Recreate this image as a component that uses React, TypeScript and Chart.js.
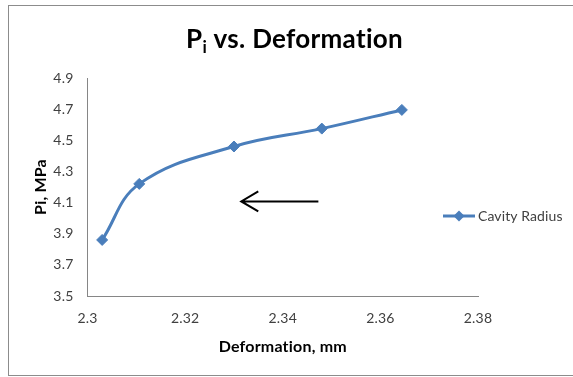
import React, { useEffect, useRef } from "react";
import { Chart, registerables } from "chart.js";

Chart.register(...registerables);

// ---- data ----
const seriesLabel = "Cavity Radius";
const deformation = [2.303, 2.3106, 2.33, 2.348, 2.3644];
const pressure = [3.86, 4.22, 4.46, 4.575, 4.695];
const xTicks = [2.3, 2.32, 2.34, 2.36, 2.38];
const yTicks = [3.5, 3.7, 3.9, 4.1, 4.3, 4.5, 4.7, 4.9];
const arrowTail = [2.3473, 4.107];
const arrowHead = [2.3315, 4.107];
const titleMain = "P";
const titleSub = "i";
const titleRest = " vs. Deformation";
const xTitle = "Deformation, mm";
const yTitle = "Pi, MPa";

const FONT = "Lato, 'Open Sans', sans-serif";
const LINE = "#4a7ebb";
const TEXT = "#404040";

const decorPlugin = {
  id: "decor",
  beforeDraw(chart: any) {
    // non-zero letter spacing prevents the "ti" ligature
    (chart.ctx as any).letterSpacing = "0.2px";
  },
  afterDatasetsDraw(chart: any) {
    const { ctx, scales } = chart;
    const x = scales.x, y = scales.y;
    const tx = x.getPixelForValue(arrowTail[0]);
    const ty = y.getPixelForValue(arrowTail[1]);
    const hx = x.getPixelForValue(arrowHead[0]);
    const hy = y.getPixelForValue(arrowHead[1]);
    ctx.save();
    ctx.strokeStyle = "#000";
    ctx.lineWidth = 2;
    ctx.beginPath();
    ctx.moveTo(tx, ty);
    ctx.lineTo(hx, hy);
    ctx.moveTo(hx + 17, hy - 10);
    ctx.lineTo(hx, hy);
    ctx.lineTo(hx + 17, hy + 10);
    ctx.stroke();
    ctx.restore();
  },
  afterDraw(chart: any) {
    const { ctx } = chart;
    ctx.save();
    (ctx as any).letterSpacing = "0.3px";
    const big = `bold 26px ${FONT}`;
    const small = `bold 17px ${FONT}`;
    ctx.font = big;
    const w1 = ctx.measureText(titleMain).width;
    const w3 = ctx.measureText(titleRest).width;
    ctx.font = small;
    const w2 = ctx.measureText(titleSub).width;
    const total = w1 + w2 + w3;
    let cx = 294.5 - total / 2;
    const base = 48;
    ctx.fillStyle = "#000";
    ctx.textBaseline = "alphabetic";
    ctx.textAlign = "left";
    ctx.font = big;
    ctx.fillText(titleMain, cx, base);
    cx += w1;
    ctx.font = small;
    ctx.fillText(titleSub, cx, base + 5);
    cx += w2;
    ctx.font = big;
    ctx.fillText(titleRest, cx, base);

    // legend
    const ds = chart.data.datasets[0];
    const ly = 216;
    ctx.strokeStyle = LINE;
    ctx.lineWidth = 3;
    ctx.beginPath();
    ctx.moveTo(443, ly);
    ctx.lineTo(475, ly);
    ctx.stroke();
    ctx.fillStyle = LINE;
    ctx.beginPath();
    ctx.moveTo(459, ly - 5.5);
    ctx.lineTo(464.5, ly);
    ctx.lineTo(459, ly + 5.5);
    ctx.lineTo(453.5, ly);
    ctx.closePath();
    ctx.fill();
    (ctx as any).letterSpacing = "0.1px";
    ctx.fillStyle = TEXT;
    ctx.font = `14px ${FONT}`;
    ctx.textBaseline = "middle";
    ctx.fillText(ds.label, 478, ly);
    ctx.restore();
  },
};

export default function App() {
  const ref = useRef<HTMLCanvasElement>(null);
  useEffect(() => {
    const canvas = ref.current!;
    const chart = new Chart(canvas, {
      type: "line",
      data: {
        datasets: [
          {
            label: seriesLabel,
            data: deformation.map((d, i) => ({ x: d, y: pressure[i] })),
            borderColor: LINE,
            backgroundColor: LINE,
            borderWidth: 3,
            tension: 0.4,
            pointStyle: "rectRot",
            pointRadius: 5.5,
            pointBorderWidth: 1,
            pointBackgroundColor: LINE,
            pointBorderColor: LINE,
          },
        ],
      },
      options: {
        responsive: false,
        animation: false,
        devicePixelRatio: 1,
        layout: { padding: { left: 20, top: 78, right: 95, bottom: 0 } },
        plugins: {
          legend: { display: false },
          title: { display: false },
          tooltip: { enabled: false },
        },
        scales: {
          x: {
            type: "linear",
            min: xTicks[0],
            max: xTicks[xTicks.length - 1],
            afterBuildTicks: (s: any) => {
              s.ticks = xTicks.map((v) => ({ value: v }));
            },
            afterFit: (s: any) => {
              s.height = 81;
            },
            grid: { display: false, drawTicks: false },
            border: { display: true, color: "#868686", width: 1 },
            ticks: {
              padding: 14,
              color: TEXT,
              font: { family: FONT, size: 14 },
              maxRotation: 0,
              callback: (v: any) => String(v),
            },
            title: {
              display: true,
              text: xTitle,
              color: "#000",
              font: { family: FONT, size: 16, weight: "bold" },
              padding: { top: 0, bottom: 21 },
            },
          },
          y: {
            type: "linear",
            min: yTicks[0],
            max: yTicks[yTicks.length - 1],
            afterBuildTicks: (s: any) => {
              s.ticks = yTicks.map((v) => ({ value: v }));
            },
            afterFit: (s: any) => {
              s.width = 67.5;
            },
            grid: { display: false, drawTicks: false },
            border: { display: true, color: "#868686", width: 1 },
            ticks: {
              padding: 14,
              color: TEXT,
              font: { family: FONT, size: 14 },
              callback: (v: any) => Number(v).toFixed(1),
            },
            title: {
              display: true,
              text: yTitle,
              color: "#000",
              font: { family: FONT, size: 16, weight: "bold" },
              padding: { top: 11, bottom: 0 },
            },
          },
        },
      },
      plugins: [decorPlugin],
    });
    return () => chart.destroy();
  }, []);
  return (
    <div style={{ position: "absolute", left: 0, top: 0, width: 573, height: 377, overflow: "hidden", background: "#fff" }}>
      <canvas ref={ref} width={573} height={377} style={{ position: "absolute", left: 0, top: 0 }} />
      <div
        style={{
          position: "absolute",
          left: 8,
          top: 5,
          width: 600,
          height: 371,
          boxSizing: "border-box",
          border: "1px solid #8c8c8c",
          pointerEvents: "none",
        }}
      />
    </div>
  );
}
